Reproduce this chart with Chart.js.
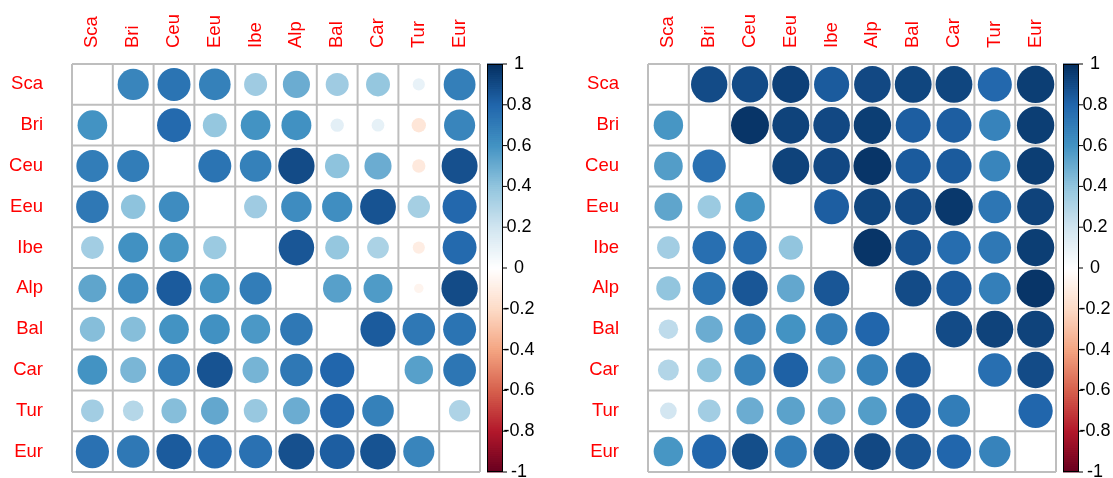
<!DOCTYPE html>
<html>
<head>
<meta charset="utf-8">
<script src="https://cdn.jsdelivr.net/npm/chart.js"></script>
<style>
  html, body { margin: 0; padding: 0; background: #fff; }
  .panel { position: absolute; top: 0; height: 478px; }
</style>
</head>
<body>
<div class="panel" style="left:0;width:556px"><canvas id="leftChart"></canvas></div>
<div class="panel" style="left:556px;width:557px"><canvas id="rightChart"></canvas></div>
<script>
// region names, used for both rows and columns
var regions = ['Sca', 'Bri', 'Ceu', 'Eeu', 'Ibe', 'Alp', 'Bal', 'Car', 'Tur', 'Eur'];

// left matrix, one row per region (null = diagonal)
var leftRows = [
  [null, 0.66, 0.74, 0.68, 0.36, 0.50, 0.36, 0.39, 0.10, 0.69],
  [0.60, null, 0.78, 0.39, 0.60, 0.61, 0.12, 0.11, -0.14, 0.66],
  [0.70, 0.70, null, 0.74, 0.68, 0.90, 0.41, 0.50, -0.12, 0.88],
  [0.72, 0.41, 0.63, null, 0.36, 0.63, 0.62, 0.87, 0.34, 0.79],
  [0.35, 0.61, 0.59, 0.37, null, 0.86, 0.39, 0.32, -0.10, 0.78],
  [0.53, 0.63, 0.84, 0.60, 0.70, null, 0.55, 0.57, -0.06, 0.90],
  [0.43, 0.43, 0.60, 0.61, 0.58, 0.72, null, 0.84, 0.72, 0.74],
  [0.60, 0.46, 0.70, 0.87, 0.47, 0.72, 0.80, null, 0.55, 0.73],
  [0.35, 0.29, 0.43, 0.52, 0.38, 0.50, 0.80, 0.68, null, 0.31],
  [0.75, 0.72, 0.84, 0.78, 0.75, 0.88, 0.83, 0.87, 0.66, null]
];

// right matrix
var rightRows = [
  [null, 0.90, 0.90, 0.94, 0.84, 0.91, 0.92, 0.92, 0.79, 0.95],
  [0.59, null, 0.98, 0.93, 0.91, 0.95, 0.83, 0.83, 0.67, 0.95],
  [0.56, 0.75, null, 0.93, 0.91, 0.98, 0.84, 0.84, 0.66, 0.95],
  [0.53, 0.37, 0.60, null, 0.83, 0.92, 0.90, 0.97, 0.73, 0.93],
  [0.35, 0.76, 0.77, 0.40, null, 0.98, 0.87, 0.77, 0.72, 0.95],
  [0.40, 0.74, 0.86, 0.52, 0.86, null, 0.90, 0.84, 0.69, 0.98],
  [0.26, 0.50, 0.67, 0.60, 0.69, 0.80, null, 0.90, 0.93, 0.93],
  [0.30, 0.41, 0.67, 0.82, 0.52, 0.67, 0.84, null, 0.76, 0.90],
  [0.19, 0.35, 0.50, 0.54, 0.52, 0.56, 0.83, 0.70, null, 0.80],
  [0.59, 0.80, 0.89, 0.70, 0.88, 0.91, 0.86, 0.80, 0.67, null]
];

// colour legend ticks
var legendTicks = [1, 0.8, 0.6, 0.4, 0.2, 0, -0.2, -0.4, -0.6, -0.8, -1];

// RdBu ramp, from -1 to 1
var ramp = ['#67001F', '#B2182B', '#D6604D', '#F4A582', '#FDDBC7', '#FFFFFF',
            '#D1E5F0', '#92C5DE', '#4393C3', '#2166AC', '#053061'];

var FONT = '"Liberation Sans", Arial, sans-serif';
var N = regions.length;

function hexRgb(h) {
  return [parseInt(h.substr(1, 2), 16), parseInt(h.substr(3, 2), 16), parseInt(h.substr(5, 2), 16)];
}

function rampColor(v) {
  var t = (v + 1) / 2 * (ramp.length - 1);
  var i = Math.min(Math.floor(t), ramp.length - 2);
  if (i < 0) i = 0;
  var f = t - i;
  var a = hexRgb(ramp[i]), b = hexRgb(ramp[i + 1]);
  var c = a.map(function(x, k) { return Math.round(x + (b[k] - x) * f); });
  return 'rgb(' + c.join(',') + ')';
}

function toPoints(rows) {
  var pts = [];
  rows.forEach(function(row, i) {
    row.forEach(function(v, j) {
      if (v !== null) pts.push({ x: j + 0.5, y: i + 0.5, v: v });
    });
  });
  return pts;
}

var corrDecor = {
  id: 'corrDecor',
  beforeDatasetsDraw: function(chart) {
    var a = chart.chartArea, ctx = chart.ctx;
    var cw = (a.right - a.left) / N, ch = (a.bottom - a.top) / N;
    ctx.save();
    ctx.strokeStyle = '#BEBEBE';
    ctx.lineWidth = 2;
    for (var k = 0; k <= N; k++) {
      ctx.beginPath();
      ctx.moveTo(a.left + k * cw, a.top);
      ctx.lineTo(a.left + k * cw, a.bottom);
      ctx.moveTo(a.left, a.top + k * ch);
      ctx.lineTo(a.right, a.top + k * ch);
      ctx.stroke();
    }
    ctx.restore();
  },
  afterDraw: function(chart) {
    var a = chart.chartArea, ctx = chart.ctx;
    var cw = (a.right - a.left) / N, ch = (a.bottom - a.top) / N;
    ctx.save();
    ctx.fillStyle = '#FF0000';
    ctx.font = '18.5px ' + FONT;
    // row labels
    ctx.textAlign = 'right';
    ctx.textBaseline = 'middle';
    regions.forEach(function(r, i) {
      ctx.fillText(r, a.left - 29, a.top + (i + 0.5) * ch);
    });
    // column labels, vertical
    regions.forEach(function(r, j) {
      ctx.save();
      ctx.translate(a.left + (j + 0.5) * cw, a.top - 16);
      ctx.rotate(-Math.PI / 2);
      ctx.textAlign = 'left';
      ctx.textBaseline = 'middle';
      ctx.fillText(r, 0, 0);
      ctx.restore();
    });
    // colour bar
    var bx = a.right + 7, bw = 16, top = a.top, bot = a.bottom;
    var steps = 200, h = (bot - top) / steps;
    for (var s = 0; s < steps; s++) {
      ctx.fillStyle = rampColor(-1 + (s + 0.5) * 2 / steps);
      ctx.fillRect(bx, bot - (s + 1) * h - 0.5, bw, h + 1);
    }
    ctx.strokeStyle = '#000';
    ctx.lineWidth = 1;
    ctx.strokeRect(bx + 0.5, top + 0.5, bw - 1, bot - top - 1);
    ctx.fillStyle = '#000';
    ctx.font = '18px ' + FONT;
    ctx.textAlign = 'center';
    ctx.textBaseline = 'middle';
    legendTicks.forEach(function(t) {
      var y = bot - (t + 1) / 2 * (bot - top);
      ctx.beginPath();
      ctx.moveTo(bx + bw, y);
      ctx.lineTo(bx + bw + 4, y);
      ctx.stroke();
      ctx.fillText(String(t), bx + bw + 16, y);
    });
    ctx.restore();
  }
};

function makeChart(id, rows, pad) {
  var ctx = document.getElementById(id).getContext('2d');
  return new Chart(ctx, {
    type: 'bubble',
    data: {
      datasets: [{
        data: toPoints(rows),
        radius: function(c) {
          var a = c.chart.chartArea;
          var cell = a ? (a.right - a.left) / N : 40.8;
          return 0.47 * Math.sqrt(Math.abs(c.raw.v)) * cell;
        },
        backgroundColor: function(c) { return rampColor(c.raw.v); },
        borderWidth: 0,
        hoverRadius: 0
      }]
    },
    options: {
      responsive: true,
      maintainAspectRatio: false,
      animation: false,
      events: [],
      layout: { padding: pad, autoPadding: false },
      scales: {
        x: { type: 'linear', min: 0, max: N, display: false },
        y: { type: 'linear', min: 0, max: N, reverse: true, display: false }
      },
      plugins: { legend: { display: false }, tooltip: { enabled: false } }
    },
    plugins: [corrDecor]
  });
}

makeChart('leftChart', leftRows, { left: 72, right: 76, top: 64, bottom: 6 });
makeChart('rightChart', rightRows, { left: 92, right: 57, top: 64, bottom: 6 });
</script>
</body>
</html>
